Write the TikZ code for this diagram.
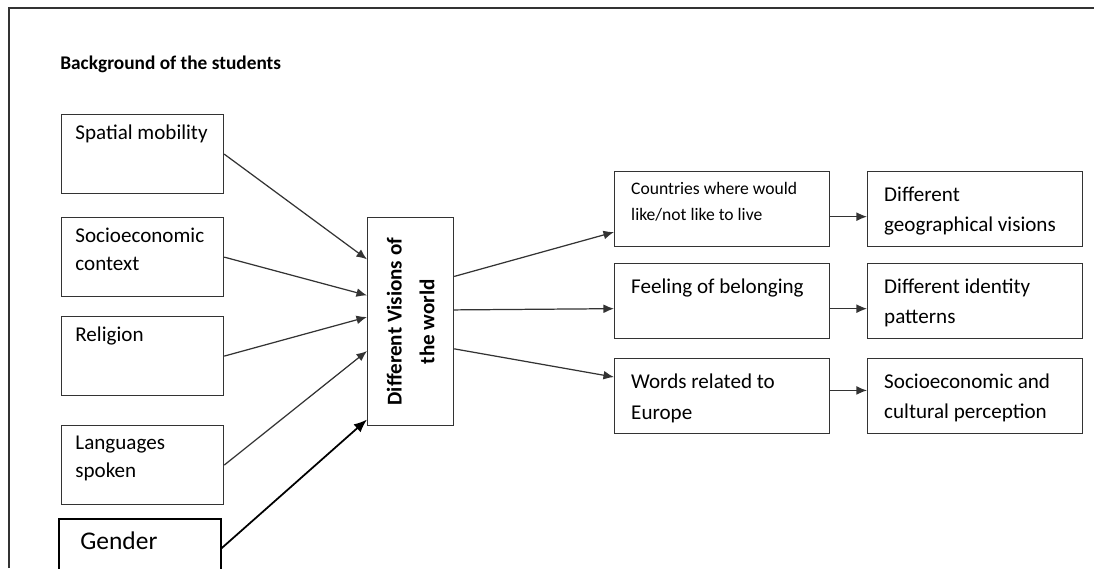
\documentclass[tikz,border=0pt]{standalone}
\usepackage{fontspec}
\setmainfont{Carlito}
\usetikzlibrary{arrows.meta}
\begin{document}
\begin{tikzpicture}
    [x=0.02cm, y=-0.02cm,
    line/.style={draw=black!80, line width=0.7pt},
    arr/.style={line, -{Latex[length=6pt,width=5pt]}},
    leftbox/.style={line, anchor=north west, minimum width=3.24cm, minimum height=1.58cm, inner sep=0pt},
    rightbox/.style={line, anchor=north west, minimum width=4.3cm, minimum height=1.5cm, inner sep=0pt},
    lbl/.style={anchor=north west, inner sep=0pt, align=left, font=\fontsize{12}{15.9}\selectfont, xshift=8pt, yshift=-6pt},
    rlbl/.style={anchor=north west, inner sep=0pt, align=left, font=\fontsize{12}{17}\selectfont, xshift=9.6pt, yshift=-9pt}]
		\useasboundingbox (0,0) rectangle (1094,568);
		\draw[line, line width=0.9pt] (9,568) -- (9,8) -- (1094,8);

		\node [anchor=base west, inner sep=0pt, font=\bfseries\fontsize{11}{13}\selectfont] (title) at (60,69) {Background of the students};

		\node [leftbox, label={[lbl]north west:Spatial mobility}] (spatial) at (61,114) {};
		\node [leftbox, label={[lbl]north west:Socioeconomic\\context}] (socio) at (61,217) {};
		\node [leftbox, label={[lbl]north west:Religion}] (religion) at (61,316) {};
		\node [leftbox, label={[lbl]north west:Languages\\spoken}] (lang) at (61,425) {};
		\node [leftbox, draw=black, line width=0.9pt, label={[lbl, font=\fontsize{14.5}{17}\selectfont, xshift=4.5pt, yshift=-1.5pt]north west:Gender}] (gender) at (58,518) {};

		\node [line, anchor=north west, minimum width=1.72cm, minimum height=4.16cm, inner sep=0pt,
			label={[rotate=90, align=center, font=\bfseries\fontsize{12}{18.7}\selectfont]center:Different Visions of\\the world}] (visions) at (367,217) {};

		\node [rightbox, label={[rlbl, font=\fontsize{10}{15.3}\selectfont, yshift=3pt]north west:Countries where would\\like/not like to live}] (countries) at (614,171) {};
		\node [rightbox, label={[rlbl]north west:Feeling of belonging}] (feeling) at (614,263) {};
		\node [rightbox, label={[rlbl, font=\fontsize{12}{17.6}\selectfont]north west:Words related to\\Europe}] (words) at (614,358) {};

		\node [rightbox, label={[rlbl]north west:Different\\geographical visions}] (geo) at (867,171) {};
		\node [rightbox, label={[rlbl]north west:Different identity\\patterns}] (identity) at (867,263) {};
		\node [rightbox, label={[rlbl]north west:Socioeconomic and\\cultural perception}] (cultural) at (867,358) {};

		\draw[arr] (spatial.east) -- (visions.125.6);
		\draw[arr] (socio.east) -- (visions.149.8);
		\draw[arr] (religion.east) -- (visions.174.7);
		\draw[arr] (lang.east) -- (visions.214);
		\draw[arr, draw=black, line width=1pt, -{Latex[length=7.5pt,width=6pt]}] (gender.7.4) -- (visions.246.5);

		\draw[arr] (visions.46.9) -- (countries.192.3);
		\draw[arr] (visions.15.6) -- (feeling.184.5);
		\draw[arr] (visions.-32.1) -- (words.170);

		\draw[arr] (countries.-4.5) -- (countries.-4.5 -| geo.west);
		\draw[arr] (feeling.-4.5) -- (feeling.-4.5 -| identity.west);
		\draw[arr] (words.3.2) -- (words.3.2 -| cultural.west);
    \end{tikzpicture}
\end{document}
